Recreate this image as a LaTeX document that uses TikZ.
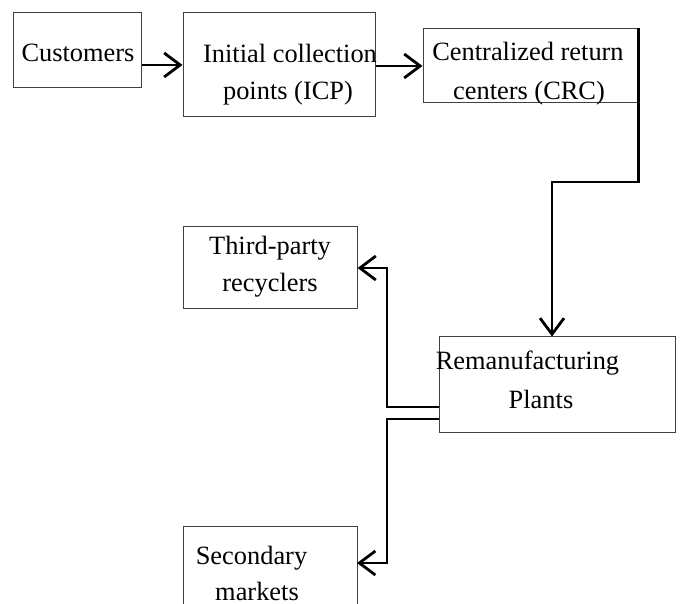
\documentclass[tikz,border=0pt]{standalone}
\usepackage{fontspec}
\setmainfont{Liberation Serif}
\usetikzlibrary{arrows.meta}
\begin{document}
\begin{tikzpicture}[x=1pt,y=-1pt,
 box/.style={draw=black!75, line width=1pt, rectangle, inner sep=0pt},
 txt/.style={anchor=base, inner sep=0pt, font=\fontsize{26.4}{30}\selectfont},
 conn/.style={line width=2.8pt, -{Straight Barb[length=16pt,width=24pt]}},
]
\clip (0,0) rectangle (681,604);
\fill[white] (0,0) rectangle (681,604);

\node[box, minimum width=128pt, minimum height=75pt] (cust) at (77,50.5) {};
\node[box, minimum width=192pt, minimum height=104pt] (icp) at (279,65) {};
\node[box, minimum width=215pt, minimum height=74pt] (crc) at (530.5,66) {};
\node[box, minimum width=174pt, minimum height=82pt] (third) at (270,268) {};
\node[box, minimum width=236pt, minimum height=96pt] (rem) at (557,385) {};
\node[box, minimum width=174pt, minimum height=94pt] (sec) at (270,573) {};

\node[txt] (t1) at (78,62) {Customers};
\node[txt] (t2) at (290,63) {Initial collection};
\node[txt] (t3) at (288,100) {points (ICP)};
\node[txt] (t4) at (528,61) {Centralized return};
\node[txt] (t5) at (529,100) {centers (CRC)};
\node[txt] (t6) at (270,255) {Third-party};
\node[txt] (t7) at (270,292) {recyclers};
\node[txt] (t8) at (527.5,370) {Remanufacturing};
\node[txt] (t9) at (541,409) {Plants};
\node[txt] (t10) at (251.5,564) {Secondary};
\node[txt] (t11) at (257,600) {markets};

\coordinate (k1) at (552,182);
\coordinate (k2) at (387,407);
\coordinate (k3) at (387,419);
\coordinate (s1) at (357,563);

\draw[conn] (cust.east |- icp.west) -- (icp.west);
\draw[conn] (icp.east |- crc.west) -- (crc.west);
\draw[conn] (crc.north east) |- (k1) -- (k1 |- rem.north);
\draw[conn] (rem.west |- k2) -- (k2) |- (third.east);
\draw[conn] (rem.west |- k3) -- (k3) |- (s1);
\end{tikzpicture}
\end{document}
